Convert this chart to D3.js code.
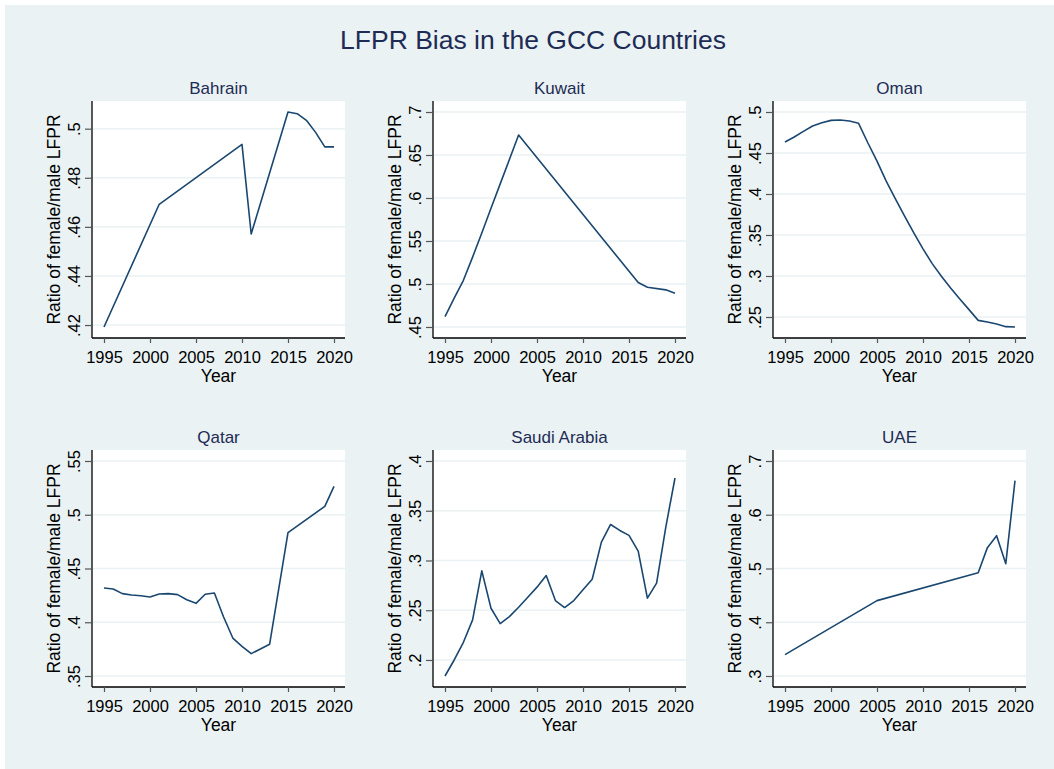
<!DOCTYPE html>
<html>
<head>
<meta charset="utf-8">
<script src="https://cdn.jsdelivr.net/npm/d3@7"></script>
<style>
  body { margin: 0; background: #fff; }
  text { font-family: Arial, "Liberation Sans", sans-serif; }
</style>
</head>
<body>
<div id="chart"></div>
<script>
// values
const countries = ['Bahrain', 'Kuwait', 'Oman', 'Qatar', 'Saudi Arabia', 'UAE'];
const xTicks = [1995, 2000, 2005, 2010, 2015, 2020];

const bahrainYears = [1995, 2001, 2010, 2011, 2015, 2016, 2017, 2018, 2019, 2020];
const bahrainValues = [0.4192, 0.4692, 0.4936, 0.4571, 0.5068, 0.5061, 0.5034, 0.4985, 0.4926, 0.4926];
const bahrainTicks = [0.42, 0.44, 0.46, 0.48, 0.5];

const kuwaitYears = [1995, 1996, 1997, 1998, 1999, 2000, 2001, 2002, 2003, 2016, 2017, 2019, 2020];
const kuwaitValues = [0.4621, 0.4835, 0.5043, 0.5313, 0.5593, 0.5881, 0.6164, 0.6448, 0.6732, 0.5017, 0.4963, 0.4932, 0.4893];
const kuwaitTicks = [0.45, 0.5, 0.55, 0.6, 0.65, 0.7];

const omanYears = [1995, 1996, 1997, 1998, 1999, 2000, 2001, 2002, 2003, 2004, 2005, 2006, 2007,
  2008, 2009, 2010, 2011, 2012, 2013, 2014, 2015, 2016, 2017, 2018, 2019, 2020];
const omanValues = [0.4634, 0.4695, 0.4764, 0.4829, 0.4870, 0.4898, 0.4902, 0.4890, 0.4862, 0.4625,
  0.4401, 0.4157, 0.3941, 0.3730, 0.3526, 0.3331, 0.3151, 0.2997, 0.2854, 0.2720, 0.2590, 0.2459,
  0.2439, 0.2415, 0.2382, 0.2378];
const omanTicks = [0.25, 0.3, 0.35, 0.4, 0.45, 0.5];

const qatarYears = [1995, 1996, 1997, 1998, 1999, 2000, 2001, 2002, 2003, 2004, 2005, 2006, 2007,
  2008, 2009, 2010, 2011, 2012, 2013, 2015, 2019, 2020];
const qatarValues = [0.4319, 0.4309, 0.4266, 0.4253, 0.4247, 0.4235, 0.4263, 0.4266, 0.4257, 0.4210,
  0.4176, 0.4260, 0.4272, 0.4049, 0.3853, 0.3776, 0.3708, 0.3751, 0.3795, 0.4833, 0.5078, 0.5264];
const qatarTicks = [0.35, 0.4, 0.45, 0.5, 0.55];

const saudiYears = [1995, 1996, 1997, 1998, 1999, 2000, 2001, 2002, 2003, 2004, 2005, 2006, 2007,
  2008, 2009, 2010, 2011, 2012, 2013, 2014, 2015, 2016, 2017, 2018, 2019, 2020];
const saudiValues = [0.1839, 0.2000, 0.2178, 0.2403, 0.2896, 0.2520, 0.2366, 0.2436, 0.2530, 0.2631,
  0.2732, 0.2849, 0.2597, 0.2527, 0.2597, 0.2705, 0.2812, 0.3185, 0.3362, 0.3302, 0.3252, 0.3094,
  0.2621, 0.2772, 0.3336, 0.3829];
const saudiTicks = [0.2, 0.25, 0.3, 0.35, 0.4];

const uaeYears = [1995, 2005, 2016, 2017, 2018, 2019, 2020];
const uaeValues = [0.3397, 0.4402, 0.4922, 0.5388, 0.5611, 0.5090, 0.6634];
const uaeTicks = [0.3, 0.4, 0.5, 0.6, 0.7];

const panelYears = [bahrainYears, kuwaitYears, omanYears, qatarYears, saudiYears, uaeYears];
const panelValues = [bahrainValues, kuwaitValues, omanValues, qatarValues, saudiValues, uaeValues];
const panelTicks = [bahrainTicks, kuwaitTicks, omanTicks, qatarTicks, saudiTicks, uaeTicks];

const W = 1054, H = 769;
const bg = '#eaf2f3';
const navy = '#1a476f';
const titleColor = '#1e2c55';

// plot regions of the 3x2 grid
const colLeft = [92, 433, 773];
const rowTop = [101, 450];
const plotW = 253, plotH = 237;
const pad = 11; // inner margin of the plot region

const svg = d3.select('#chart').append('svg')
  .attr('width', W)
  .attr('height', H);

svg.append('rect')
  .attr('x', 5).attr('y', 5)
  .attr('width', W - 5).attr('height', H - 5)
  .attr('fill', bg);

svg.append('text')
  .attr('x', 533)
  .attr('y', 49)
  .attr('text-anchor', 'middle')
  .attr('font-size', 26.5)
  .attr('fill', titleColor)
  .text('LFPR Bias in the GCC Countries');

const fmt = d => d3.format('.2~f')(d).replace(/^0/, '');

countries.forEach(function(name, i) {
  const left = colLeft[i % 3];
  const top = rowTop[Math.floor(i / 3)];
  const years = panelYears[i];
  const values = panelValues[i];
  const ticks = panelTicks[i];
  const data = years.map(function(yr, j) { return { year: yr, value: values[j] } });

  const x = d3.scaleLinear()
    .domain([1995, 2020])
    .range([12, plotW - 11]);

  const y = d3.scaleLinear()
    .domain(d3.extent(values.concat(ticks)))
    .range([plotH - pad, pad]);

  const g = svg.append('g').attr('transform', 'translate(' + left + ',' + top + ')');

  g.append('rect')
    .attr('width', plotW)
    .attr('height', plotH)
    .attr('fill', '#fff');

  // grid lines
  g.append('g')
    .selectAll('line')
    .data(ticks)
    .enter().append('line')
    .attr('x1', 0)
    .attr('x2', plotW)
    .attr('y1', function(d) { return y(d) })
    .attr('y2', function(d) { return y(d) })
    .attr('stroke', bg)
    .attr('stroke-width', 1.5);

  // y axis
  const yAxis = g.append('g')
    .call(d3.axisLeft(y).tickValues(ticks).tickSize(7).tickFormat(fmt));
  yAxis.select('.domain')
    .attr('d', 'M0,0V' + plotH)
    .attr('stroke', '#000')
    .attr('stroke-width', 1.3);
  yAxis.selectAll('.tick line').attr('stroke', '#555').attr('stroke-width', 1.2);
  yAxis.selectAll('.tick text')
    .attr('x', null).attr('dy', null)
    .attr('transform', 'translate(-12,0) rotate(-90)')
    .attr('text-anchor', 'middle')
    .attr('font-size', 16.5)
    .attr('fill', '#000');

  // x axis
  const xAxis = g.append('g')
    .attr('transform', 'translate(0,' + plotH + ')')
    .call(d3.axisBottom(x).tickValues(xTicks).tickSize(5).tickFormat(d3.format('d')));
  xAxis.select('.domain')
    .attr('d', 'M0,0H' + plotW)
    .attr('stroke', '#000')
    .attr('stroke-width', 1.3);
  xAxis.selectAll('.tick line').attr('stroke', '#555').attr('stroke-width', 1.2);
  xAxis.selectAll('.tick text')
    .attr('y', 25).attr('dy', null)
    .attr('font-size', 16.5)
    .attr('fill', '#000');
  svg.selectAll('.domain').attr('fill', 'none');
  g.selectAll('g').attr('font-family', null);

  // data line
  g.append('path')
    .datum(data)
    .attr('fill', 'none')
    .attr('stroke', navy)
    .attr('stroke-width', 1.6)
    .attr('stroke-linejoin', 'round')
    .attr('d', d3.line()
      .x(function(d) { return x(d.year) })
      .y(function(d) { return y(d.value) }));

  // titles
  g.append('text')
    .attr('x', plotW / 2)
    .attr('y', -7)
    .attr('text-anchor', 'middle')
    .attr('font-size', 17)
    .attr('fill', titleColor)
    .text(name);

  g.append('text')
    .attr('x', plotW / 2)
    .attr('y', plotH + 44)
    .attr('text-anchor', 'middle')
    .attr('font-size', 17.5)
    .attr('fill', '#000')
    .text('Year');

  g.append('text')
    .attr('transform', 'translate(-32,' + plotH / 2 + ') rotate(-90)')
    .attr('text-anchor', 'middle')
    .attr('font-size', 17.5)
    .attr('fill', '#000')
    .text('Ratio of female/male LFPR');
});
</script>
</body>
</html>
